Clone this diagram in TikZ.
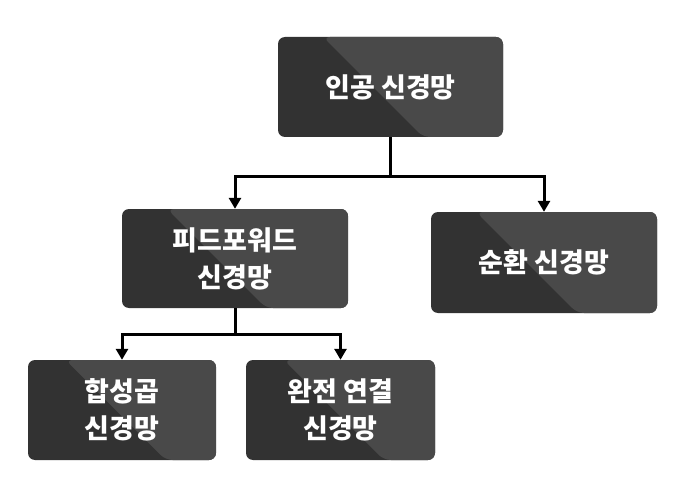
\documentclass[tikz,border=0pt]{standalone}
\usepackage{fontspec}
\newfontfamily\kr{Noto Sans CJK KR}
\usetikzlibrary{arrows.meta,calc}
\definecolor{boxdark}{HTML}{323232}
\definecolor{boxlight}{HTML}{494949}
\tikzset{
  box/.style={fill=boxdark, rounded corners=7pt, text=white, align=center,
    font=\kr\bfseries\fontsize{27}{37}\selectfont, inner sep=0pt,
    path picture={
      \fill[boxlight] let \p1=(path picture bounding box.north west),
        \p2=(path picture bounding box.south east) in
        ({\x1+0.2*(\x2-\x1)},\y1) -- (\x2,\y1) -- (\x2,\y2)
        -- ({\x1+0.2*(\x2-\x1)+(\y1-\y2)},\y2) -- cycle;
    }},
  link/.style={line width=3pt, black, line join=miter},
  arrow/.style={link, -{Triangle[length=11pt,width=12pt]}}
}
\begin{document}
\begin{tikzpicture}[x=1pt,y=-1pt]
\useasboundingbox (0,0) rectangle (697,487);
\node[box, minimum width=225pt, minimum height=100pt] (ann) at (390.5,87) {인공 신경망};
\node[box, minimum width=226pt, minimum height=99pt] (ff) at (235,258.5) {피드포워드\\신경망};
\node[box, minimum width=226pt, minimum height=101pt] (rnn) at (544,262.5) {순환 신경망};
\node[box, minimum width=188pt, minimum height=100pt] (cnn) at (122,410) {합성곱\\신경망};
\node[box, minimum width=189pt, minimum height=100pt] (fc) at (340.5,410) {완전 연결\\신경망};
\coordinate (j1) at (ann.south |- 0,176);
\coordinate (j2) at (ff.south |- 0,334);
\draw[link] (ann.south) -- (j1);
\draw[arrow] (j1) -| (ff.north);
\draw[arrow] (j1) -| (rnn.north);
\draw[link] (ff.south) -- (j2);
\draw[arrow] (j2) -| (cnn.north);
\draw[arrow] (j2) -| (fc.north);
\end{tikzpicture}
\end{document}
